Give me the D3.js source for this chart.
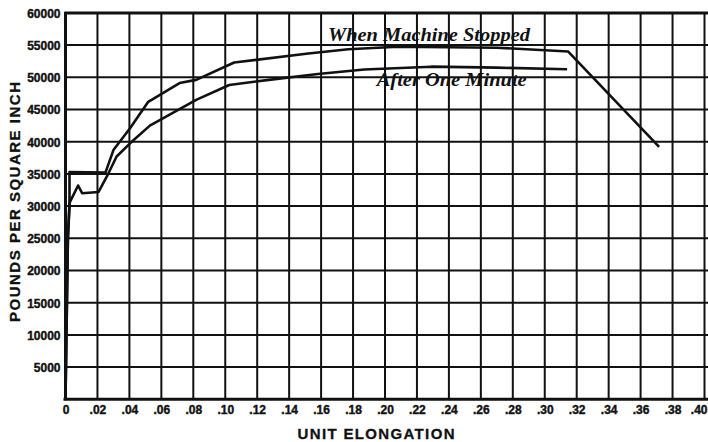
<!DOCTYPE html>
<html>
<head>
<meta charset="utf-8">
<script src="https://cdn.jsdelivr.net/npm/d3@7/dist/d3.min.js"></script>
<style>
  html, body { margin: 0; padding: 0; background: #fff; }
  svg { display: block; }
  .tick-label { font-family: "Liberation Sans", Arial, sans-serif; font-weight: bold; font-size: 12px; fill: #111; stroke: #111; stroke-width: 0.4px; }
  .axis-title { font-family: "Liberation Sans", Arial, sans-serif; font-weight: bold; font-size: 15px; fill: #111; stroke: #111; stroke-width: 0.3px; }
  .curve-label { font-family: "Liberation Serif", "Times New Roman", serif; font-weight: bold; font-style: italic; font-size: 18px; fill: #111; }
</style>
</head>
<body>
<svg id="chart" width="708" height="442"></svg>
<script>
// Tension test: stress vs. unit elongation, read when the machine stopped and one minute later
const stoppedStrain = [0, 0.0015, 0.0025, 0.0025, 0.025, 0.030, 0.0404, 0.0518, 0.0714, 0.0818, 0.1056, 0.152, 0.177, 0.208, 0.27, 0.3147, 0.3716];
const stoppedStress = [0, 25000, 30000, 35300, 35200, 38700, 42100, 46200, 49100, 49600, 52300, 53700, 54350, 54750, 54600, 54000, 39200];

const minuteStrain = [0, 0.0015, 0.0025, 0.0079, 0.0104, 0.0207, 0.0259, 0.032, 0.0404, 0.0528, 0.0818, 0.1025, 0.1273, 0.158, 0.187, 0.229, 0.27, 0.314];
const minuteStress = [0, 25000, 30500, 33200, 32000, 32200, 34600, 37700, 39750, 42500, 46500, 48800, 49600, 50500, 51200, 51650, 51500, 51250];

const xTicks = [0, 0.02, 0.04, 0.06, 0.08, 0.10, 0.12, 0.14, 0.16, 0.18, 0.20, 0.22, 0.24, 0.26, 0.28, 0.30, 0.32, 0.34, 0.36, 0.38, 0.40];
const xTickLabels = ["0", ".02", ".04", ".06", ".08", ".10", ".12", ".14", ".16", ".18", ".20", ".22", ".24", ".26", ".28", ".30", ".32", ".34", ".36", ".38", ".40"];
const yTicks = [5000, 10000, 15000, 20000, 25000, 30000, 35000, 40000, 45000, 50000, 55000, 60000];
const yTickLabels = ["5000", "10000", "15000", "20000", "25000", "30000", "35000", "40000", "45000", "50000", "55000", "60000"];

const curveLabels = ["When Machine Stopped", "After One Minute"];

const svg = d3.select("#chart");
const W = 708, H = 442;

const x = d3.scaleLinear().domain([0, 0.40]).range([65.5, 704.5]);
const y = d3.scaleLinear().domain([0, 60000]).range([399.3, 12.9]);

// grid: vertical lines every .02, horizontal every 5000
const grid = svg.append("g").attr("stroke", "#111").attr("stroke-width", 2);
grid.selectAll("line.v").data(xTicks.slice(1)).join("line")
  .attr("x1", d => x(d)).attr("x2", d => x(d))
  .attr("y1", y(60000)).attr("y2", y(0));
grid.selectAll("line.h").data(yTicks.slice(0, -1)).join("line")
  .attr("x1", x(0)).attr("x2", W)
  .attr("y1", d => y(d)).attr("y2", d => y(d));

// heavier frame: left axis, bottom axis, top line
const frame = svg.append("g").attr("stroke", "#111").attr("stroke-width", 3);
frame.append("line").attr("x1", x(0)).attr("x2", x(0)).attr("y1", y(60000) - 1).attr("y2", y(0) + 1);
frame.append("line").attr("x1", x(0) - 2).attr("x2", W).attr("y1", y(0)).attr("y2", y(0));
frame.append("line").attr("x1", x(0) - 1).attr("x2", W).attr("y1", y(60000)).attr("y2", y(60000));

// axis tick labels built from d3 axes, with the domain and tick marks hidden
const xAxis = d3.axisBottom(x).tickValues(xTicks).tickFormat((d, i) => xTickLabels[i]).tickSize(0).tickPadding(0);
const gx = svg.append("g").attr("transform", `translate(0, ${y(0) + 6})`).call(xAxis);
gx.select(".domain").remove();
gx.selectAll("text").attr("class", "tick-label").attr("dy", "0.71em").attr("font-size", null).attr("font-family", null);
// the last label sits on the right edge; keep it inside the page
gx.selectAll(".tick").filter(d => d === 0.40).select("text").attr("text-anchor", "end").attr("x", W - 1 - x(0.40));

const yAxis = d3.axisLeft(y).tickValues(yTicks).tickFormat((d, i) => yTickLabels[i]).tickSize(0).tickPadding(0);
const gy = svg.append("g").attr("transform", `translate(${x(0) - 5}, 0)`).call(yAxis);
gy.select(".domain").remove();
gy.selectAll("text").attr("class", "tick-label").attr("dy", "0.36em").attr("font-size", null).attr("font-family", null);

// axis titles
svg.append("text").attr("class", "axis-title")
  .attr("x", 376).attr("y", 439)
  .attr("text-anchor", "middle")
  .attr("textLength", 157).attr("lengthAdjust", "spacing")
  .text("UNIT ELONGATION");

svg.append("text").attr("class", "axis-title")
  .attr("transform", "translate(20, 202) rotate(-90)")
  .attr("text-anchor", "middle")
  .attr("textLength", 240).attr("lengthAdjust", "spacing")
  .text("POUNDS PER SQUARE INCH");

// curves
const line = d3.line().x(d => x(d[0])).y(d => y(d[1]));
const stopped = stoppedStrain.map((s, i) => [s, stoppedStress[i]]);
const minute = minuteStrain.map((s, i) => [s, minuteStress[i]]);

svg.append("path").datum(stopped).attr("d", line)
  .attr("fill", "none").attr("stroke", "#111").attr("stroke-width", 2.6).attr("stroke-linejoin", "round");
svg.append("path").datum(minute).attr("d", line)
  .attr("fill", "none").attr("stroke", "#111").attr("stroke-width", 2.6).attr("stroke-linejoin", "round");

// curve annotations
svg.append("text").attr("class", "curve-label")
  .attr("x", x(0.1643)).attr("y", y(55600))
  .attr("textLength", 202).attr("lengthAdjust", "spacingAndGlyphs")
  .text(curveLabels[0]);
svg.append("text").attr("class", "curve-label")
  .attr("x", x(0.1948)).attr("y", y(48600))
  .attr("textLength", 150).attr("lengthAdjust", "spacingAndGlyphs")
  .text(curveLabels[1]);
</script>
</body>
</html>
